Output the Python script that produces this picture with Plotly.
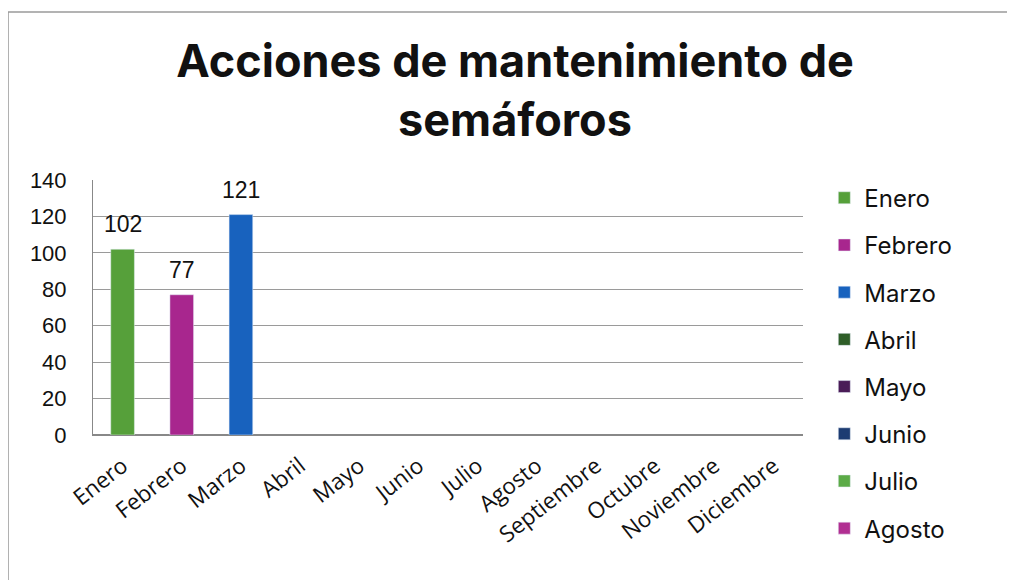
import plotly.graph_objects as go

months = ["Enero", "Febrero", "Marzo", "Abril", "Mayo", "Junio", "Julio", "Agosto",
          "Septiembre", "Octubre", "Noviembre", "Diciembre"]
values = [102, 77, 121, None, None, None, None, None, None, None, None, None]
colors = ["#56A03A", "#A8268E", "#1862BE", "#2F5E28", "#4A1C57", "#1D3C72",
          "#5CAB47", "#B12F92", "#2C7FC4", "#3E7A2E", "#6A2F76", "#2A4F8C"]
legend_shown = 8

fig = go.Figure()
for i, (m, v, c) in enumerate(zip(months, values, colors)):
    fig.add_trace(go.Bar(
        x=[m], y=[v], name=m, marker_color=c, width=0.4,
        cliponaxis=False, legendgroup=m, showlegend=i < legend_shown,
    ))
    if v is not None:
        fig.add_annotation(x=m, y=v, text=str(v), showarrow=False,
                           yanchor="bottom", yshift=10,
                           font=dict(family="Liberation Sans, Arial", size=23, color="#111"))

fig.update_layout(
    width=1015, height=580,
    paper_bgcolor="white", plot_bgcolor="white",
    barmode="overlay",
    margin=dict(l=85, r=220, t=172, b=153),
    title=dict(text="<b>Acciones de mantenimiento de<br>semáforos</b>",
               x=0.4995, xanchor="center", y=0.881, yanchor="middle",
               yref="container",
               font=dict(family="Inter, Open Sans, sans-serif", size=45, color="#111")),
    legend=dict(x=1.030, y=1.017, xanchor="left", yanchor="top",
                font=dict(family="Inter, Open Sans, sans-serif", size=24, color="#111"),
                tracegroupgap=13, itemwidth=30, bgcolor="rgba(0,0,0,0)", maxheight=1),
    showlegend=True,
)
fig.update_xaxes(categoryorder="array", categoryarray=months, tickangle=-38,
                 tickfont=dict(family="Open Sans, sans-serif", size=22.5, color="#111"),
                 showline=True, linecolor="#888", linewidth=1, showgrid=False,
                 ticks="", range=[-0.5, 11.5], automargin=False, ticklabelstandoff=8)
fig.update_yaxes(range=[0, 140], dtick=20, showgrid=True, gridcolor="#9a9a9a", gridwidth=1,
                 tickfont=dict(family="Liberation Sans, Arial", size=22, color="#111"),
                 showline=True, linecolor="#888", linewidth=1, zeroline=True,
                 zerolinecolor="#888", ticks="", ticklabelstandoff=21, automargin=False)
fig.add_shape(type="rect", xref="paper", yref="paper",
              x0=-0.1197, x1=1.3, y0=-0.6, y1=(427 - 4) / 255,
              line=dict(color="#9a9a9a", width=1.5), layer="below")
fig.write_html("out.html")
